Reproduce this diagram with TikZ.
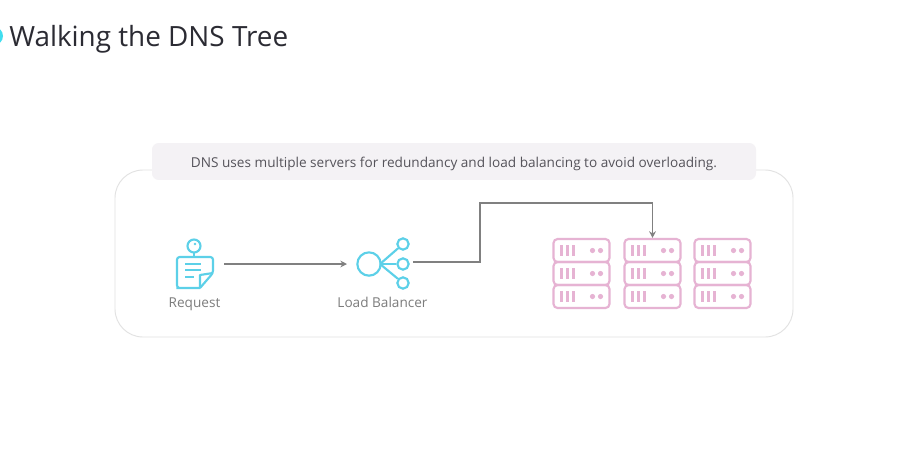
\documentclass[tikz,border=0pt]{standalone}
\usepackage{fontspec}
\setmainfont{Open Sans}
\usetikzlibrary{calc,positioning,arrows.meta}
\definecolor{cyanicon}{HTML}{5CD0E8}
\definecolor{pinkicon}{HTML}{E6B3D3}
\definecolor{wirecol}{HTML}{808080}
\definecolor{framecol}{HTML}{E2E2E2}
\definecolor{bannercol}{HTML}{F4F2F5}
\definecolor{titlecol}{HTML}{2B2B33}
\definecolor{bannertext}{HTML}{55535A}
\definecolor{labelcol}{HTML}{7C7C7C}
\tikzset{
  icon/.style={draw=cyanicon,line width=1.6pt},
  wire/.style={draw=wirecol,line width=0.9pt,-{Stealth[length=5pt,width=5pt]}},
  caption/.style={text=labelcol,font=\fontsize{10.2}{12}\selectfont,inner sep=0pt,anchor=base},
  unit/.style={draw=pinkicon,line width=1.6pt,rounded corners=3pt,minimum width=42pt,minimum height=17.2pt,inner sep=0pt},
}
\begin{document}
\begin{tikzpicture}[x=0.75pt,y=-0.75pt]
  \useasboundingbox (0,0) rectangle (907,451);
  \fill[white] (0,0) rectangle (907,451);
  \begin{scope}
    \clip (0,0) rectangle (907,451);
    \fill[cyanicon!70!cyan] (-6,36) circle (9);
  \end{scope}
  \node[anchor=base west,inner sep=0pt,text=titlecol,font=\fontsize{20.9}{26}\selectfont] (title) at (9,46) {Walking the DNS Tree};

  % frame and banner
  \draw[framecol,line width=0.7pt,rounded corners=21pt] (115,170) rectangle (793,337);
  \node[fill=bannercol,rounded corners=5pt,minimum width=453pt,minimum height=27.7pt,inner sep=0pt] (banner) at (454,161.5) {};
  \node[anchor=base,inner sep=0pt,text=bannertext,font=\fontsize{10.2}{12}\selectfont] (bannerlabel) at (454,167)
    {DNS uses multiple servers for redundancy and load balancing to avoid overloading.};

  % request
  \draw[icon,rounded corners=2pt] (200,288) -- (179,288) -- (177,288) -- (177,257) -- (213,257) -- (213,273) -- (200,288);
  \draw[icon,line join=round] (200,288) -- (200,275) -- (213,273);
  \draw[icon] (185,264) -- (201,264);
  \draw[icon] (185,270) -- (201,270);
  \draw[icon] (185,277) -- (194,277);
  \draw[icon] (194,252) -- (194,257);
  \draw[icon] (194,246) circle (6.5);
  \fill[cyanicon] (195,244) circle (1.3);
  \node[caption] (request) at (194.5,307.5) {Request};
  \coordinate (reqout) at (224,264);

  % load balancer
  \coordinate (hub) at (380,264);
  \node[icon,circle,minimum size=17.5pt,inner sep=0pt] (lbmain) at (369,264) {};
  \node[icon,circle,minimum size=8.5pt,inner sep=0pt] (lbtop) at (403,244) {};
  \node[icon,circle,minimum size=8.5pt,inner sep=0pt] (lbmid) at (403,264) {};
  \node[icon,circle,minimum size=8.5pt,inner sep=0pt] (lbbot) at (403,283) {};
  \draw[icon] (hub) -- (lbtop);
  \draw[icon] (hub) -- (lbmid);
  \draw[icon] (hub) -- (lbbot);
  \node[caption] (balancer) at (382.5,307.5) {Load Balancer};
  \coordinate (lbin) at (347,264);
  \coordinate (lbout) at (413,262);

  % servers
  \foreach \col/\x in {1/581.5,2/652.5,3/722.5} {
    \foreach \row/\y in {1/250.5,2/273.5,3/296.5} {
      \node[unit] (s\col\row) at (\x,\y) {};
      \foreach \dx in {-20,-14,-8}
        \fill[pinkicon] (\x+\dx-1.4,\y-5.5) rectangle (\x+\dx+1.4,\y+5.5);
      \foreach \dx in {11,19}
        \fill[pinkicon] (\x+\dx,\y) circle (2.6);
    }
  }

  \draw[wire] (reqout) -- (lbin);
  \draw[wire] (lbout) -- (480,262) -- (480,203) -- (s21.north |- 0,203) -- (s21.north);
\end{tikzpicture}
\end{document}
